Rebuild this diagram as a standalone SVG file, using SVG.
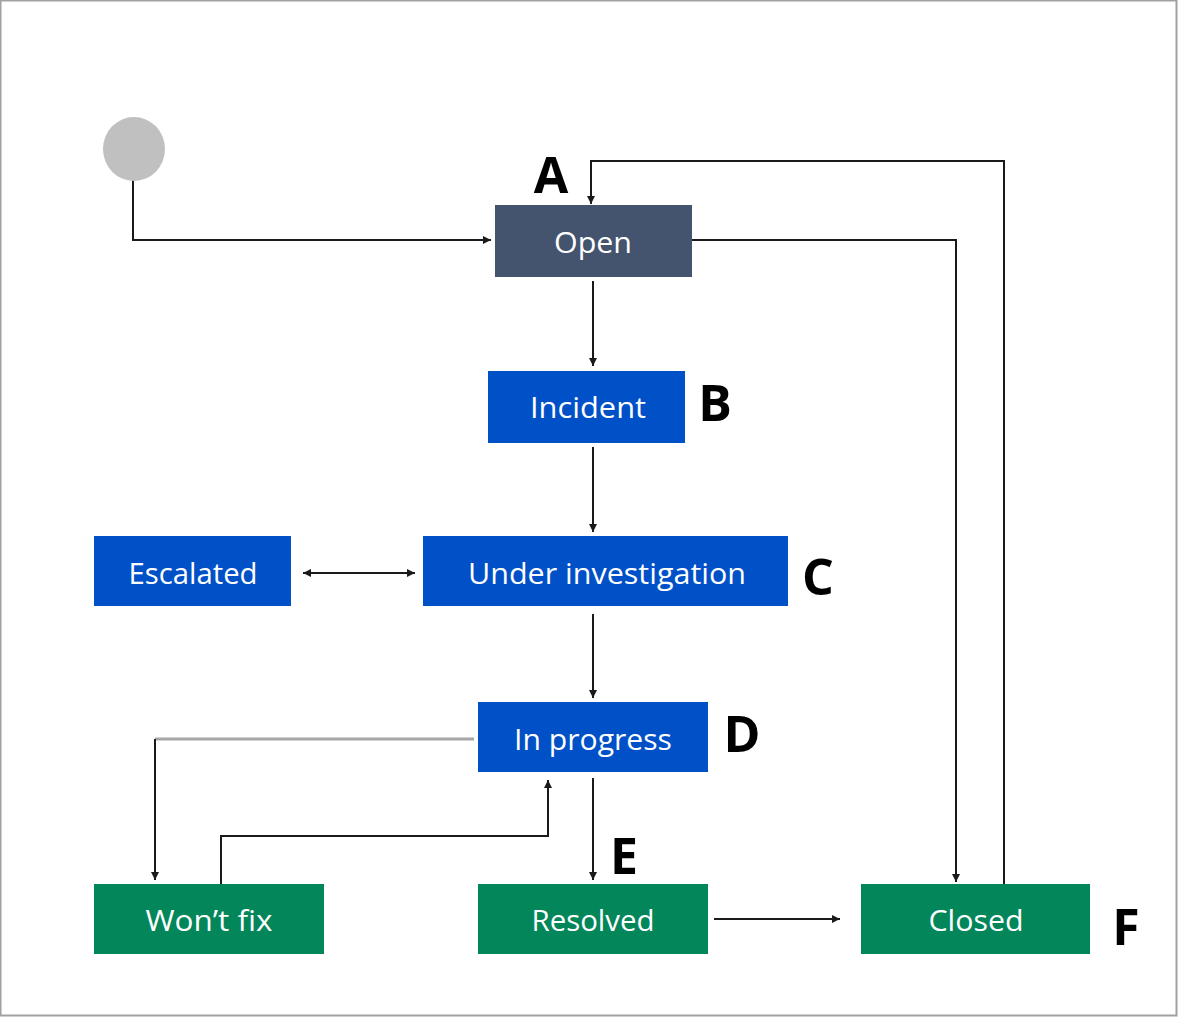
<svg xmlns="http://www.w3.org/2000/svg" width="1178" height="1017" viewBox="0 0 1178 1017">
  <style>
    .node-text { font-family: "Open Sans", "Noto Sans", sans-serif; font-size: 30px; fill: #ffffff; text-anchor: middle; dominant-baseline: central; }
    .tag { font-family: "Open Sans", "Liberation Sans", sans-serif; font-weight: bold; font-size: 50px; fill: #000000; text-anchor: middle; dominant-baseline: central; }
    .wire { fill: none; stroke: #1a1a1a; stroke-width: 2; }
    .wire-gray { fill: none; stroke: #a6a6a6; stroke-width: 3; }
    .open { fill: #44546e; }
    .blue { fill: #0050c8; }
    .green { fill: #02865a; }
  </style>
  <defs>
    <marker id="arrow" viewBox="0 0 10 10" refX="10" refY="5" markerWidth="4" markerHeight="4" orient="auto-start-reverse" markerUnits="strokeWidth">
      <path d="M0,0 L10,5 L0,10 z" fill="#1a1a1a"/>
    </marker>
  </defs>

  <!-- frame -->
  <rect x="0.5" y="0.5" width="1176" height="1015" fill="#ffffff" stroke="#a0a0a0" stroke-width="2"/>

  <!-- connectors -->
  <g id="connectors">
    <path class="wire" d="M133,180 V240 H491" marker-end="url(#arrow)"/>
    <path class="wire" d="M1004,884 V161 H591 V204" marker-end="url(#arrow)"/>
    <path class="wire" d="M692,240 H956 V882" marker-end="url(#arrow)"/>
    <path class="wire" d="M593,281 V366" marker-end="url(#arrow)"/>
    <path class="wire" d="M593,447 V532" marker-end="url(#arrow)"/>
    <path class="wire" d="M303,573 H415" marker-start="url(#arrow)" marker-end="url(#arrow)"/>
    <path class="wire" d="M593,614 V698" marker-end="url(#arrow)"/>
    <path class="wire-gray" d="M474,739 H155"/>
    <path class="wire" d="M155,739 V880" marker-end="url(#arrow)"/>
    <path class="wire" d="M221,884 V836 H548 V780" marker-end="url(#arrow)"/>
    <path class="wire" d="M593,778 V880" marker-end="url(#arrow)"/>
    <path class="wire" d="M714,919 H840" marker-end="url(#arrow)"/>
  </g>

  <!-- start point -->
  <g id="start">
    <ellipse cx="134" cy="149" rx="31" ry="32" fill="#c0c0c0"/>
  </g>

  <g id="open">
    <rect class="open" x="495" y="205" width="197" height="72"/>
    <text class="node-text" x="593" y="241" textLength="78" lengthAdjust="spacingAndGlyphs">Open</text>
    <text class="tag" x="551" y="174">A</text>
  </g>

  <g id="incident">
    <rect class="blue" x="488" y="371" width="197" height="72"/>
    <text class="node-text" x="588" y="406" textLength="116" lengthAdjust="spacingAndGlyphs">Incident</text>
    <text class="tag" x="715" y="402">B</text>
  </g>

  <g id="escalated">
    <rect class="blue" x="94" y="536" width="197" height="70"/>
    <text class="node-text" x="193" y="572" textLength="129" lengthAdjust="spacingAndGlyphs">Escalated</text>
  </g>

  <g id="under-investigation">
    <rect class="blue" x="423" y="536" width="365" height="70"/>
    <text class="node-text" x="607" y="572" textLength="278" lengthAdjust="spacingAndGlyphs">Under investigation</text>
    <text class="tag" x="818" y="576">C</text>
  </g>

  <g id="in-progress">
    <rect class="blue" x="478" y="702" width="230" height="70"/>
    <text class="node-text" x="593" y="738" textLength="158" lengthAdjust="spacingAndGlyphs">In progress</text>
    <text class="tag" x="742" y="733">D</text>
  </g>

  <g id="wont-fix">
    <rect class="green" x="94" y="884" width="230" height="70"/>
    <text class="node-text" x="209" y="919" textLength="127" lengthAdjust="spacingAndGlyphs">Won’t fix</text>
  </g>

  <g id="resolved">
    <rect class="green" x="478" y="884" width="230" height="70"/>
    <text class="node-text" x="593" y="919" textLength="123" lengthAdjust="spacingAndGlyphs">Resolved</text>
    <text class="tag" x="624" y="855">E</text>
  </g>

  <g id="closed">
    <rect class="green" x="861" y="884" width="229" height="70"/>
    <text class="node-text" x="976" y="919" textLength="95" lengthAdjust="spacingAndGlyphs">Closed</text>
    <text class="tag" x="1126" y="926">F</text>
  </g>
</svg>
